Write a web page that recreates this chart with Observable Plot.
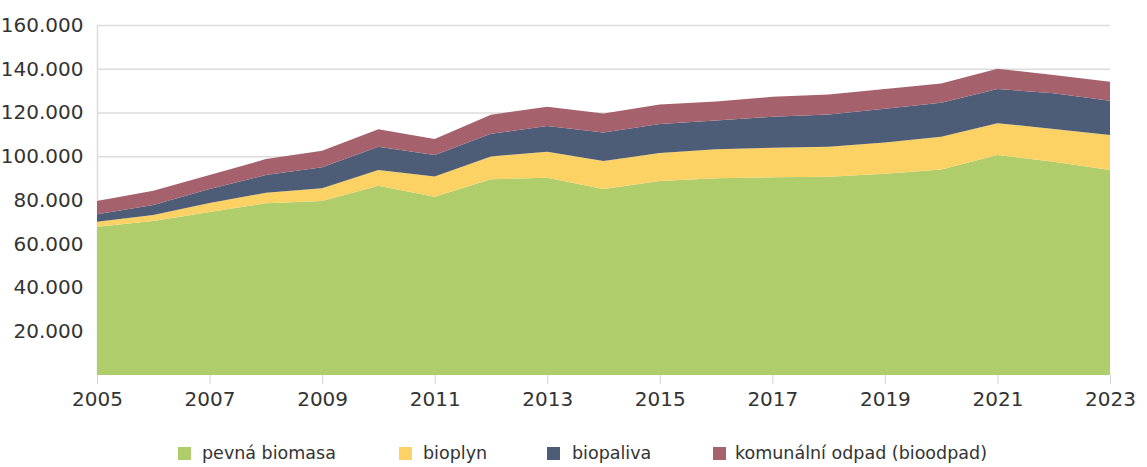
<!DOCTYPE html>
<html>
<head>
<meta charset="utf-8">
<script src="https://cdn.jsdelivr.net/npm/d3@7"></script>
<script src="https://cdn.jsdelivr.net/npm/@observablehq/plot@0.6"></script>
<style>
  body { margin: 0; background: #fff; }
  #wrap { width: 1147px; position: relative; }
  #legend { position: relative; width: 1147px; height: 47px; font-family: "DejaVu Sans", sans-serif; font-size: 17.5px; color: #333; }
  .sw { position: absolute; width: 13px; height: 13px; top: 27px; }
  .lb { position: absolute; top: 22px; line-height: 22px; white-space: nowrap; }
</style>
</head>
<body>
<div id="wrap">
  <div id="chart"></div>
  <div id="legend"></div>
</div>
<script>
const years = [2005, 2006, 2007, 2008, 2009, 2010, 2011, 2012, 2013, 2014, 2015, 2016, 2017, 2018, 2019, 2020, 2021, 2022, 2023];
const pevnaBiomasa = [67800, 70400, 74500, 78500, 79500, 86500, 81500, 89500, 90200, 85000, 88700, 89900, 90400, 90600, 92000, 94000, 100600, 97500, 93700];
const bioplyn = [2300, 2700, 4100, 4800, 5900, 7200, 9200, 10400, 11900, 12800, 12800, 13300, 13500, 13700, 14300, 14900, 14500, 15000, 16000];
const biopaliva = [3400, 4600, 6400, 8100, 9600, 10700, 9900, 10400, 11700, 13100, 13200, 13100, 14200, 14800, 15400, 15600, 15600, 16300, 15700];
const komunalniOdpad = [6100, 6500, 6400, 7300, 7500, 7900, 7300, 8700, 8800, 8700, 9000, 8700, 9100, 9100, 9100, 8800, 9300, 8400, 8700];

const seriesNames = ["pevná biomasa", "bioplyn", "biopaliva", "komunální odpad (bioodpad)"];
const seriesColors = ["#afce6b", "#fdd264", "#4d5d77", "#a5626c"];
const xTicks = [2005, 2007, 2009, 2011, 2013, 2015, 2017, 2019, 2021, 2023];
const yTicks = [0, 20000, 40000, 60000, 80000, 100000, 120000, 140000, 160000];

const seriesValues = [pevnaBiomasa, bioplyn, biopaliva, komunalniOdpad];
const data = seriesNames.flatMap((s, i) => years.map((y, j) => ({year: y, series: s, value: seriesValues[i][j]})));

const fmt = d => d === 0 ? "" : d3.format(",")(d).replace(/,/g, ".");

const chart = Plot.plot({
  width: 1147,
  height: 420,
  marginLeft: 97,
  marginRight: 37,
  marginTop: 25,
  marginBottom: 45,
  style: {fontFamily: "DejaVu Sans, sans-serif", fontSize: "20px", color: "#333", background: "#fff"},
  x: {domain: [2005, 2023], label: null},
  y: {domain: [0, 160000], label: null},
  color: {domain: seriesNames, range: seriesColors},
  marks: [
    Plot.gridY(yTicks.filter(d => d > 0), {stroke: "#dcdcdc", strokeOpacity: 1, strokeWidth: 1.5}),
    Plot.ruleX([2005], {stroke: "#dcdcdc", strokeWidth: 1.5}),
    Plot.areaY(data, {x: "year", y: "value", z: "series", fill: "series", order: seriesNames}),
    Plot.axisX(xTicks, {tickFormat: d => String(d), tickSize: 9, tickPadding: 7, stroke: "#d0d0d0", fill: "#333", fontSize: 20, label: null}),
    Plot.axisY(yTicks, {tickSize: 0, tickPadding: 14, tickFormat: fmt, fill: "#333", fontSize: 20, label: null})
  ]
});
document.getElementById("chart").appendChild(chart);

const legendSw = [178, 399, 547, 713];
const legendLb = [202, 423, 572, 735];
const legend = document.getElementById("legend");
seriesNames.forEach((s, i) => {
  const sw = document.createElement("div");
  sw.className = "sw";
  sw.style.left = legendSw[i] + "px";
  sw.style.background = seriesColors[i];
  legend.appendChild(sw);
  const lb = document.createElement("div");
  lb.className = "lb";
  lb.style.left = legendLb[i] + "px";
  lb.textContent = s;
  legend.appendChild(lb);
});
</script>
</body>
</html>
